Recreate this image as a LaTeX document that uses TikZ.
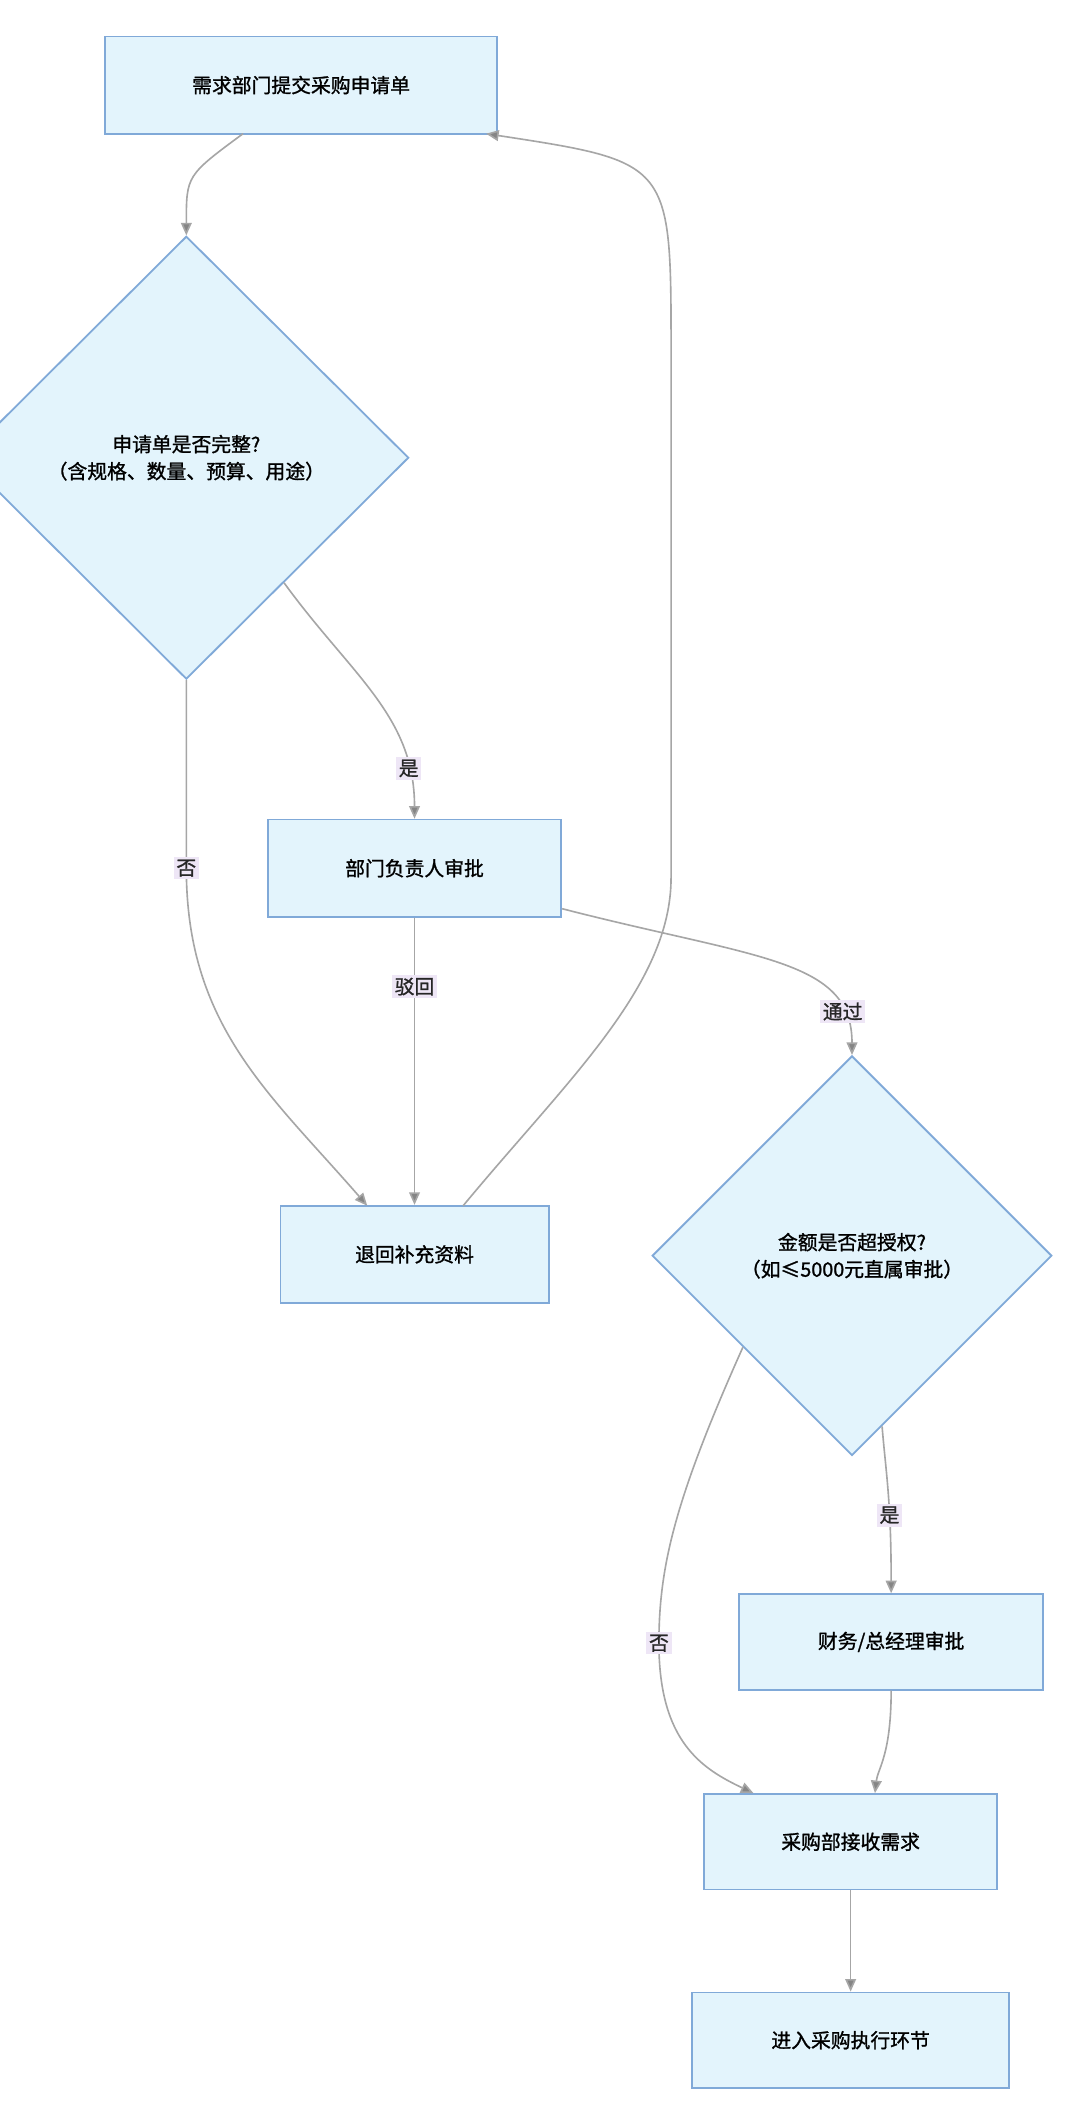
\documentclass[tikz,border=0pt]{standalone}
\usepackage{fontspec}
\setmainfont{Noto Sans CJK SC}[AutoFakeBold=1.2]
\usetikzlibrary{shapes.geometric,arrows.meta}
\definecolor{nfill}{HTML}{E3F4FC}
\definecolor{nline}{HTML}{80A9D8}
\definecolor{eline}{HTML}{A6A6A6}
\definecolor{lfill}{HTML}{EEE6F6}
\begin{document}
\begin{tikzpicture}[x=0.75pt,y=-0.75pt,
  box/.style={draw=nline,fill=nfill,line width=1pt,font=\fontsize{11}{14}\selectfont\bfseries,align=center},
  dia/.style={draw=nline,fill=nfill,line width=1pt,shape=diamond,inner sep=0pt,font=\fontsize{11}{15}\selectfont\bfseries,align=center},
  e/.style={draw=eline,line width=0.9pt,-{Triangle[length=7pt,width=6pt,fill=eline!80!black]}},
  lab/.style={fill=lfill,inner sep=1.5pt,font=\fontsize{11}{13}\selectfont\bfseries,text=black!85}]
\useasboundingbox (0,0) rectangle (800,1559);
\fill[white] (0,0) rectangle (800,1559);
\node[box,minimum width=217.5pt,minimum height=54pt] (b1) at (223,63) {需求部门提交采购申请单};
\node[dia,minimum width=247pt,minimum height=246pt] (d1) at (138,339) {申请单是否完整?\\（含规格、数量、预算、用途）};
\node[box,minimum width=163pt,minimum height=54pt] (b2) at (307,643) {部门负责人审批};
\node[box,minimum width=149pt,minimum height=54pt] (b3) at (307,929) {退回补充资料};
\node[dia,minimum width=222pt,minimum height=222pt] (d2) at (631,930) {金额是否超授权?\\（如≤5000元直属审批）};
\node[box,minimum width=169pt,minimum height=53pt] (b4) at (660,1216) {财务/总经理审批};
\node[box,minimum width=163pt,minimum height=53pt] (b5) at (630,1364) {采购部接收需求};
\node[box,minimum width=176pt,minimum height=53pt] (b6) at (630,1511) {进入采购执行环节};
\coordinate (c1) at (497,650);
\coordinate (c2) at (497,260);
\coordinate (b1r) at (360,99);
\coordinate (b1l) at (180,99);
\coordinate (b3l) at (272,893);
\coordinate (b3r) at (343,893);
\draw[e] (b1l) .. controls (138,130) .. (d1.north);
\draw[e] (d1.-52) .. controls (260,500) and (307,530) .. node[lab,pos=0.82]{是} (b2.north);
\draw[e] (d1.south) -- (138,643) node[lab]{否} .. controls (138,760) and (200,810) .. (b3l);
\draw[e] (b2.south) -- node[lab,pos=0.24]{驳回} (b3.north);
\draw[e] (b2.east|-0,673) .. controls (560,710) and (631,710) .. node[lab,pos=0.82]{通过} (d2.north);
\draw[e] (b3r) .. controls (420,800) and (497,730) .. (c1) -- (c2) .. controls (497,120) .. (b1r);
\draw[e] (d2.-80) .. controls (656,1090) and (660,1110) .. node[lab,pos=0.65]{是} (b4.north);
\draw[e] (d2.-140) .. controls (500,1110) and (488,1160) .. (488,1217) node[lab]{否} .. controls (488,1290) and (520,1310) .. (b5.north west-|558,0);
\draw[e] (b4.south) .. controls (660,1300) and (650,1310) .. (b5.north-|648,0);
\draw[e] (b5.south) -- (b6.north);
\end{tikzpicture}
\end{document}
